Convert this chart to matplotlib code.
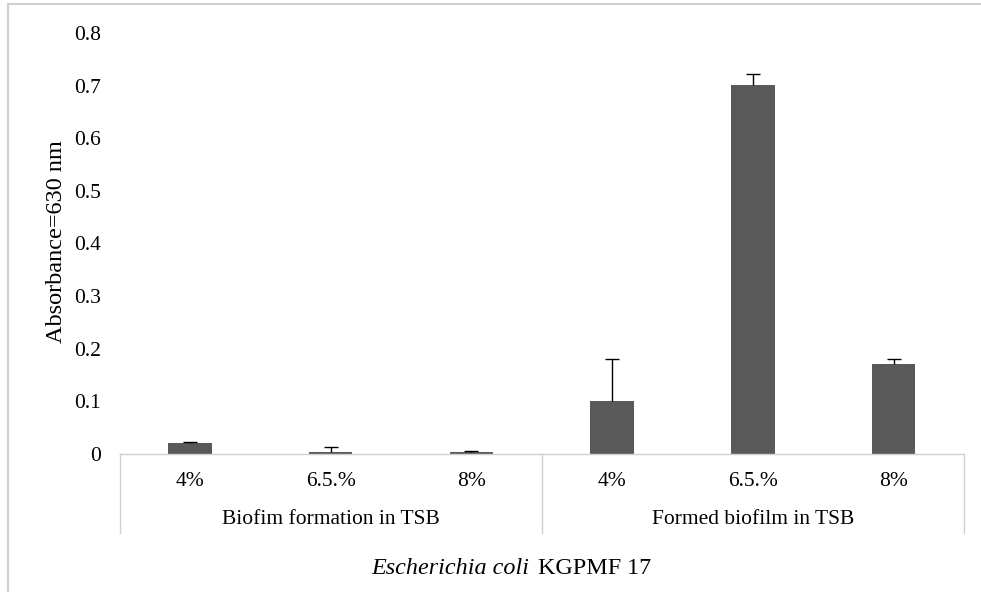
import matplotlib
matplotlib.use("Agg")
import matplotlib.pyplot as plt
from matplotlib.lines import Line2D
import matplotlib.transforms as mtransforms

plt.rcParams['font.family'] = ['Liberation Serif', 'DejaVu Serif']

categories = ["4%", "6.5.%", "8%", "4%", "6.5.%", "8%"]
groups = ["Biofim formation in TSB", "Formed biofilm in TSB"]
values = [0.021, 0.003, 0.003, 0.100, 0.702, 0.170]
errors = [0.001, 0.010, 0.002, 0.081, 0.020, 0.011]
yticks = [0, 0.1, 0.2, 0.3, 0.4, 0.5, 0.6, 0.7, 0.8]

W, H = 981, 592
fig = plt.figure(figsize=(W/100, H/100), dpi=100)
ax = fig.add_axes([119.5/W, 1-453.7/H, (964-119.5)/W, (453.7-33)/H])

x = list(range(len(values)))
ax.bar(x, values, width=0.31, color='#595959', zorder=2)
eb = ax.errorbar(x, values, yerr=[[0]*len(errors), errors], fmt='none',
                 ecolor='black', elinewidth=1.0, capsize=4.7, capthick=1.0, zorder=3)
# hide the lower caps (sitting on the bar tops)
for cl in eb[1]:
    yd = list(cl.get_ydata())
    if all(abs(a - b) < 1e-12 for a, b in zip(yd, values)):
        cl.set_visible(False)

ax.set_xlim(-0.5, len(values)-0.5)
ax.set_ylim(0, 0.8)
ax.set_yticks(yticks)
ax.set_yticklabels(["0" if v == 0 else f"{v:.1f}" for v in yticks], fontsize=15.5)
ax.tick_params(axis='y', length=0, pad=13.3)
ax.set_xticks([])
for s in ['top', 'right', 'left']:
    ax.spines[s].set_visible(False)
ax.spines['bottom'].set_color('#d0d0d0')
ax.spines['bottom'].set_linewidth(1.0)

fig.text(57/W, 1-242/H, "Absorbance=630 nm", rotation=90, ha='center', va='center',
         fontsize=17.5)

# category axis below
trans = mtransforms.blended_transform_factory(ax.transData, fig.transFigure)
ybot = 1 - 532.7/H
ytop = 1 - 453.7/H
for xd in [-0.5, 2.5, 5.5]:
    fig.add_artist(Line2D([xd, xd], [ybot, ytop], transform=trans,
                          color='#d0d0d0', lw=1.0))
for i, c in enumerate(categories):
    fig.text(i, 1-481.5/H, c, transform=trans, ha='center', va='center', fontsize=15.5)
for gi, g in enumerate(groups):
    fig.text(gi*3+1, 1-520/H, g, transform=trans, ha='center', va='center', fontsize=15.5)

fig.text(371/W, 1-569/H, "Escherichia coli", ha='left', va='center', fontsize=17.4, style='italic')
fig.text(538/W, 1-569/H, "KGPMF 17", ha='left', va='center', fontsize=17.4)

# outer border
fig.add_artist(Line2D([8/W, 8/W], [0, 1-4/H], color='#d0d0d0', lw=1.5))
fig.add_artist(Line2D([8/W, 1], [1-4/H, 1-4/H], color='#d0d0d0', lw=1.5))

fig.savefig("out.png", dpi=100)
